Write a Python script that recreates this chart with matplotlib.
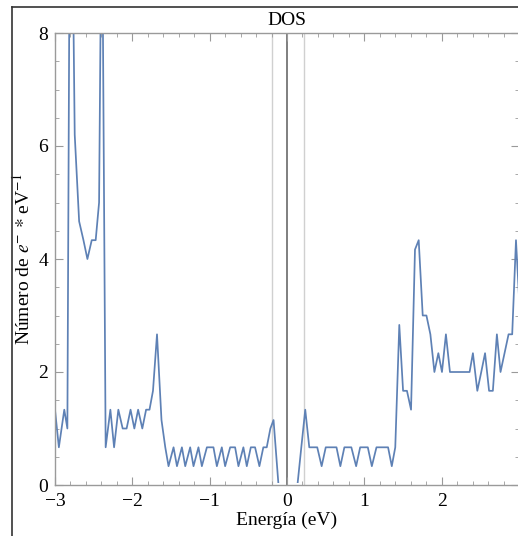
import matplotlib.pyplot as plt
from matplotlib.lines import Line2D
from matplotlib.transforms import Bbox, TransformedBbox

plt.rcParams["font.family"] = "Liberation Serif"
plt.rcParams["mathtext.fontset"] = "stix"

energy = [-3.00, -2.95, -2.88, -2.84, -2.80, -2.745, -2.688, -2.632, -2.581, -2.525,
          -2.474, -2.430, -2.394, -2.345, -2.284, -2.236, -2.181, -2.125, -2.074, -2.023,
          -1.974, -1.925, -1.871, -1.822, -1.778, -1.733, -1.681, -1.623, -1.574, -1.532,
          -1.467, -1.423, -1.359, -1.316, -1.252, -1.209, -1.145, -1.101, -1.036, -0.951,
          -0.907, -0.843, -0.800, -0.735, -0.671, -0.628, -0.564, -0.520, -0.468, -0.413,
          -0.357, -0.306, -0.262, -0.215, -0.174, -0.110, -0.058, -0.006, 0.045, 0.097,
          0.135, 0.185, 0.236, 0.288, 0.339, 0.391, 0.448, 0.501, 0.555, 0.606,
          0.640, 0.690, 0.742, 0.787, 0.832, 0.894, 0.946, 0.994, 1.045, 1.097,
          1.157, 1.206, 1.255, 1.307, 1.355, 1.400, 1.452, 1.501, 1.551, 1.604,
          1.655, 1.703, 1.755, 1.803, 1.854, 1.906, 1.957, 2.004, 2.055, 2.107,
          2.159, 2.210, 2.262, 2.314, 2.361, 2.404, 2.461, 2.512, 2.561, 2.613,
          2.662, 2.714, 2.761, 2.813, 2.865, 2.912, 2.961, 3.013]
dos = [1.333, 0.667, 1.333, 1.0, 13.0, 6.2, 4.667, 4.333, 4.0, 4.333,
       4.333, 5.0, 11.0, 0.667, 1.333, 0.667, 1.333, 1.0, 1.0, 1.333,
       1.0, 1.333, 1.0, 1.333, 1.333, 1.667, 2.667, 1.15, 0.667, 0.333,
       0.667, 0.333, 0.667, 0.333, 0.667, 0.333, 0.667, 0.333, 0.667, 0.667,
       0.333, 0.667, 0.333, 0.667, 0.667, 0.333, 0.667, 0.333, 0.667, 0.667,
       0.333, 0.667, 0.667, 1.0, 1.15, 0.0, 0.0, 0.0, 0.0, 0.0,
       0.0, 0.667, 1.333, 0.667, 0.667, 0.667, 0.333, 0.667, 0.667, 0.667,
       0.667, 0.333, 0.667, 0.667, 0.667, 0.333, 0.667, 0.667, 0.667, 0.333,
       0.667, 0.667, 0.667, 0.667, 0.333, 0.667, 2.833, 1.667, 1.667, 1.333,
       4.167, 4.333, 3.0, 3.0, 2.667, 2.0, 2.333, 2.0, 2.667, 2.0,
       2.0, 2.0, 2.0, 2.0, 2.0, 2.333, 1.667, 2.0, 2.333, 1.667,
       1.667, 2.667, 2.0, 2.333, 2.667, 2.667, 4.333, 3.0]

fermi = 0.0
homo = -0.194
lumo = 0.219

fig = plt.figure(figsize=(5.18, 5.36), dpi=100)
ax = fig.add_axes([55 / 518, 51 / 536, 464 / 518, 452 / 536])

ax.axvline(homo, color="#d0d0d0", lw=1.0, zorder=1)
ax.axvline(lumo, color="#d0d0d0", lw=1.0, zorder=1)
ax.axvline(fermi, color="#6a6a6a", lw=1.2, zorder=1)
line, = ax.plot(energy, dos, color="#5E81B5", lw=1.25, zorder=2)
# values at 0 fall on the frame, like in the original they are not drawn
line.set_clip_box(TransformedBbox(Bbox([[-3, 0.03], [3, 8]]), ax.transData))

ax.set_xlim(-3, 3)
ax.set_ylim(0, 8)
ax.set_xticks([-3, -2, -1, 0, 1, 2])
ax.set_xticks([-3 + 0.2 * k for k in range(31)], minor=True)
ax.set_yticks([0, 2, 4, 6, 8])
ax.set_yticks([0.5 * k for k in range(17)], minor=True)
ax.set_xticklabels(["\u22123", "\u22122", "\u22121", "0", "1", "2"])
ax.tick_params(which="both", direction="in", top=True, right=True,
               color="#9a9a9a", labelsize=14)
ax.tick_params(axis="x", pad=6)
ax.tick_params(axis="y", pad=5)
ax.tick_params(which="major", length=6, width=0.8)
ax.tick_params(which="minor", length=3, width=0.6)
for s in ax.spines.values():
    s.set_color("#9a9a9a")
    s.set_linewidth(1.0)

ax.set_title("DOS", fontsize=14, pad=6)
ax.set_xlabel("Energía (eV)", fontsize=14, labelpad=1)
ax.set_ylabel(r"Número de $e^{-}$ $*$ eV$^{-1}$", fontsize=14, labelpad=3)

# outer frame of the exported figure
fig.add_artist(Line2D([12 / 518, 12 / 518], [0, 529 / 536], color="#333333", lw=1.2))
fig.add_artist(Line2D([12 / 518, 1], [529 / 536, 529 / 536], color="#333333", lw=1.2))

fig.savefig("out.png", dpi=100)
